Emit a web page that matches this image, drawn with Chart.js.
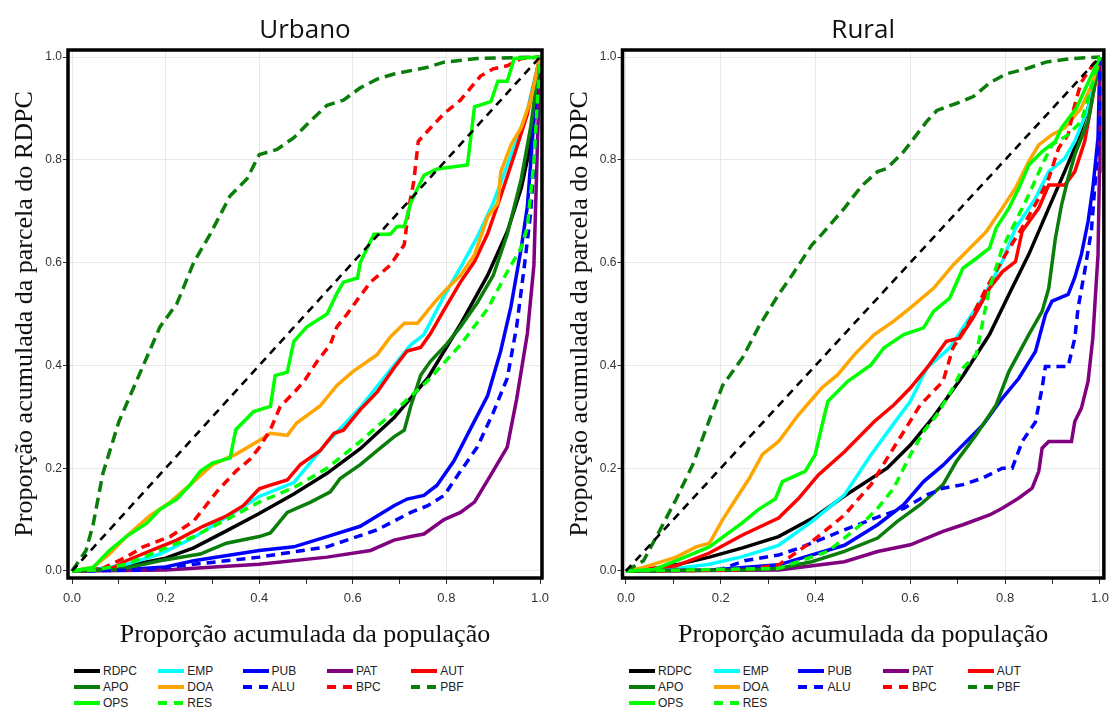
<!DOCTYPE html>
<html><head><meta charset="utf-8">
<script src="https://cdn.jsdelivr.net/npm/chart.js@4.4.0/dist/chart.umd.min.js"></script>
<style>
body{margin:0;background:#fff;width:1116px;height:709px;overflow:hidden;position:relative;font-family:"Liberation Sans",Arial,sans-serif}
canvas.chart{position:absolute;top:0}
.leg{position:absolute;height:16px;display:flex;align-items:center;font-size:12px;color:#222;white-space:nowrap}
.leg canvas{margin-right:3px}
</style></head><body>
<canvas id="cU" class="chart" width="558" height="655" style="left:0"></canvas>
<canvas id="cR" class="chart" width="558" height="655" style="left:558px"></canvas>
<div id="legends"></div>
<script>
// ---------- tick labels / categories ----------
const xTickValues = [0,0.1,0.2,0.3,0.4,0.5,0.6,0.7,0.8,0.9,1.0];
const yTickValues = [0,0.2,0.4,0.6,0.8,1.0];
const seriesNames = ["RDPC","EMP","PUB","PAT","AUT","APO","DOA","ALU","BPC","PBF","OPS","RES"];
const diagonal = [[0,0],[1,1]];

// ---------- Urbano ----------
const U_RDPC = [[0,0],[0.1,0.007],[0.2,0.025],[0.26,0.045],[0.33,0.078],[0.4,0.112],[0.474,0.15],[0.545,0.19],[0.616,0.238],[0.688,0.298],[0.76,0.375],[0.83,0.48],[0.888,0.575],[0.93,0.66],[0.96,0.745],[0.98,0.83],[1,1]];
const U_EMP = [[0,0],[0.05,0.002],[0.116,0.013],[0.188,0.033],[0.26,0.065],[0.33,0.105],[0.4,0.145],[0.474,0.172],[0.545,0.25],[0.616,0.318],[0.688,0.4],[0.724,0.44],[0.752,0.46],[0.795,0.535],[0.83,0.59],[0.866,0.65],[0.9,0.716],[0.938,0.809],[0.973,0.896],[1,1]];
const U_PUB = [[0,0],[0.1,0.002],[0.2,0.008],[0.26,0.02],[0.4,0.04],[0.474,0.047],[0.545,0.067],[0.616,0.087],[0.688,0.127],[0.716,0.14],[0.752,0.147],[0.78,0.167],[0.816,0.214],[0.85,0.274],[0.888,0.341],[0.916,0.428],[0.938,0.515],[0.96,0.629],[0.973,0.709],[0.987,0.876],[1,1]];
const U_PAT = [[0,0],[0.2,0.002],[0.4,0.013],[0.545,0.027],[0.638,0.04],[0.688,0.06],[0.724,0.067],[0.752,0.072],[0.795,0.1],[0.83,0.114],[0.86,0.134],[0.895,0.187],[0.93,0.241],[0.95,0.334],[0.973,0.462],[0.987,0.595],[1,1]];
const U_AUT = [[0,0],[0.08,0.003],[0.116,0.02],[0.188,0.047],[0.224,0.06],[0.28,0.087],[0.33,0.107],[0.366,0.127],[0.4,0.16],[0.424,0.167],[0.46,0.177],[0.488,0.207],[0.53,0.234],[0.56,0.268],[0.58,0.274],[0.616,0.314],[0.652,0.348],[0.688,0.395],[0.716,0.428],[0.745,0.435],[0.766,0.462],[0.795,0.508],[0.83,0.562],[0.86,0.602],[0.888,0.656],[0.916,0.729],[0.945,0.809],[0.973,0.889],[1,1]];
const U_APO = [[0,0],[0.1,0.003],[0.188,0.02],[0.274,0.033],[0.33,0.054],[0.4,0.067],[0.424,0.074],[0.46,0.114],[0.51,0.134],[0.552,0.154],[0.573,0.18],[0.616,0.207],[0.652,0.234],[0.688,0.261],[0.71,0.274],[0.724,0.321],[0.745,0.381],[0.766,0.408],[0.8,0.441],[0.83,0.475],[0.866,0.522],[0.9,0.575],[0.93,0.655],[0.96,0.763],[0.98,0.863],[1,1]];
const U_DOA = [[0,0],[0.045,0.007],[0.08,0.033],[0.116,0.067],[0.166,0.107],[0.21,0.134],[0.26,0.174],[0.3,0.207],[0.35,0.227],[0.4,0.254],[0.424,0.268],[0.46,0.264],[0.48,0.288],[0.53,0.321],[0.566,0.361],[0.6,0.388],[0.652,0.421],[0.68,0.455],[0.71,0.482],[0.738,0.482],[0.774,0.522],[0.8,0.548],[0.83,0.575],[0.86,0.615],[0.888,0.689],[0.91,0.716],[0.916,0.776],[0.938,0.829],[0.96,0.863],[0.98,0.916],[1,1]];
const U_ALU = [[0,0],[0.15,0.002],[0.26,0.013],[0.4,0.027],[0.545,0.047],[0.652,0.08],[0.724,0.114],[0.76,0.127],[0.795,0.147],[0.83,0.194],[0.866,0.241],[0.9,0.308],[0.93,0.375],[0.95,0.475],[0.966,0.589],[0.98,0.696],[0.99,0.829],[1,1]];
const U_BPC = [[0,0],[0.06,0.003],[0.116,0.027],[0.152,0.047],[0.21,0.067],[0.26,0.097],[0.28,0.12],[0.31,0.155],[0.35,0.194],[0.38,0.217],[0.4,0.24],[0.424,0.275],[0.445,0.32],[0.474,0.347],[0.495,0.368],[0.524,0.408],[0.552,0.441],[0.566,0.475],[0.588,0.5],[0.61,0.528],[0.638,0.562],[0.68,0.595],[0.71,0.635],[0.72,0.709],[0.73,0.756],[0.74,0.836],[0.76,0.856],[0.795,0.89],[0.83,0.916],[0.873,0.963],[0.9,0.977],[0.93,0.983],[0.96,0.997],[1,1]];
const U_PBF = [[0,0],[0.03,0.04],[0.045,0.09],[0.066,0.19],[0.1,0.29],[0.138,0.37],[0.188,0.475],[0.224,0.52],[0.26,0.6],[0.295,0.655],[0.338,0.73],[0.374,0.763],[0.4,0.81],[0.438,0.82],[0.474,0.843],[0.51,0.876],[0.545,0.906],[0.58,0.916],[0.616,0.94],[0.652,0.957],[0.688,0.967],[0.76,0.98],[0.795,0.99],[0.866,0.997],[1,1]];
const U_OPS = [[0,0],[0.045,0.007],[0.08,0.04],[0.116,0.067],[0.16,0.093],[0.188,0.12],[0.224,0.14],[0.252,0.167],[0.274,0.194],[0.3,0.21],[0.338,0.22],[0.35,0.275],[0.388,0.31],[0.424,0.32],[0.434,0.38],[0.46,0.387],[0.474,0.447],[0.502,0.475],[0.545,0.5],[0.566,0.54],[0.58,0.562],[0.61,0.57],[0.616,0.6],[0.645,0.655],[0.68,0.655],[0.695,0.67],[0.71,0.67],[0.724,0.717],[0.752,0.77],[0.78,0.782],[0.845,0.79],[0.86,0.903],[0.895,0.913],[0.91,0.953],[0.93,0.953],[0.945,0.997],[1,1]];
const U_RES = [[0,0],[0.05,0.002],[0.116,0.013],[0.188,0.04],[0.26,0.067],[0.33,0.1],[0.4,0.134],[0.474,0.162],[0.545,0.2],[0.616,0.252],[0.688,0.31],[0.724,0.34],[0.76,0.37],[0.83,0.44],[0.888,0.51],[0.93,0.582],[0.96,0.629],[0.973,0.669],[0.987,0.796],[1,1]];

// ---------- Rural ----------
const R_RDPC = [[0,0],[0.05,0.003],[0.106,0.012],[0.176,0.027],[0.246,0.045],[0.322,0.067],[0.4,0.106],[0.461,0.146],[0.551,0.2],[0.6,0.245],[0.649,0.3],[0.711,0.38],[0.767,0.46],[0.808,0.538],[0.85,0.616],[0.892,0.706],[0.926,0.778],[0.95,0.83],[0.975,0.9],[1,1]];
const R_EMP = [[0,0],[0.106,0.005],[0.176,0.013],[0.246,0.028],[0.322,0.05],[0.392,0.096],[0.461,0.148],[0.517,0.226],[0.558,0.278],[0.6,0.33],[0.635,0.395],[0.683,0.434],[0.711,0.473],[0.753,0.531],[0.794,0.602],[0.822,0.667],[0.864,0.725],[0.892,0.777],[0.926,0.803],[0.947,0.836],[0.975,0.9],[1,1]];
const R_PUB = [[0,0],[0.18,0.002],[0.322,0.012],[0.461,0.05],[0.531,0.09],[0.586,0.129],[0.628,0.174],[0.669,0.206],[0.711,0.245],[0.753,0.284],[0.794,0.336],[0.829,0.375],[0.864,0.427],[0.885,0.499],[0.899,0.525],[0.933,0.538],[0.947,0.571],[0.961,0.616],[0.975,0.68],[0.985,0.745],[0.996,0.843],[1,1]];
const R_PAT = [[0,0],[0.322,0.002],[0.461,0.018],[0.531,0.038],[0.6,0.051],[0.669,0.077],[0.711,0.09],[0.767,0.109],[0.794,0.122],[0.829,0.142],[0.857,0.161],[0.871,0.194],[0.878,0.239],[0.892,0.252],[0.94,0.252],[0.947,0.291],[0.961,0.317],[0.975,0.369],[0.985,0.453],[0.996,0.616],[0.999,0.778],[1,1]];
const R_AUT = [[0,0],[0.106,0.01],[0.176,0.035],[0.246,0.07],[0.322,0.103],[0.364,0.141],[0.406,0.187],[0.461,0.232],[0.524,0.291],[0.565,0.323],[0.6,0.356],[0.635,0.395],[0.676,0.447],[0.704,0.453],[0.732,0.492],[0.767,0.55],[0.794,0.582],[0.822,0.602],[0.836,0.661],[0.871,0.706],[0.892,0.751],[0.926,0.751],[0.947,0.777],[0.968,0.836],[1,1]];
const R_APO = [[0,0],[0.25,0.002],[0.322,0.005],[0.392,0.018],[0.461,0.038],[0.531,0.064],[0.572,0.096],[0.621,0.129],[0.669,0.168],[0.697,0.213],[0.739,0.265],[0.781,0.323],[0.808,0.388],[0.85,0.46],[0.878,0.505],[0.892,0.55],[0.906,0.647],[0.919,0.712],[0.933,0.764],[0.947,0.81],[0.975,0.875],[1,1]];
const R_DOA = [[0,0],[0.037,0.007],[0.106,0.027],[0.148,0.047],[0.176,0.054],[0.204,0.1],[0.232,0.14],[0.26,0.18],[0.288,0.227],[0.322,0.252],[0.364,0.304],[0.413,0.356],[0.447,0.382],[0.482,0.421],[0.524,0.46],[0.565,0.486],[0.6,0.512],[0.649,0.55],[0.69,0.595],[0.732,0.634],[0.76,0.66],[0.794,0.706],[0.822,0.745],[0.85,0.797],[0.871,0.829],[0.899,0.849],[0.926,0.862],[0.96,0.9],[0.985,0.95],[1,1]];
const R_ALU = [[0,0],[0.2,0.003],[0.25,0.02],[0.322,0.031],[0.364,0.044],[0.461,0.08],[0.531,0.105],[0.586,0.122],[0.635,0.148],[0.669,0.161],[0.711,0.168],[0.753,0.181],[0.794,0.2],[0.815,0.2],[0.836,0.252],[0.864,0.29],[0.878,0.356],[0.885,0.398],[0.933,0.398],[0.947,0.453],[0.954,0.512],[0.968,0.584],[0.982,0.662],[0.989,0.745],[0.999,0.849],[1,1]];
const R_BPC = [[0,0],[0.25,0.002],[0.322,0.012],[0.392,0.057],[0.461,0.109],[0.517,0.168],[0.551,0.219],[0.586,0.271],[0.621,0.323],[0.669,0.369],[0.69,0.434],[0.725,0.486],[0.76,0.55],[0.801,0.616],[0.836,0.668],[0.871,0.725],[0.892,0.764],[0.913,0.823],[0.933,0.849],[0.945,0.9],[0.96,0.95],[0.985,0.985],[1,1]];
const R_PBF = [[0,0],[0.037,0.02],[0.072,0.08],[0.106,0.14],[0.141,0.207],[0.176,0.294],[0.204,0.361],[0.246,0.415],[0.28,0.475],[0.322,0.538],[0.35,0.575],[0.392,0.634],[0.413,0.655],[0.461,0.706],[0.497,0.749],[0.531,0.777],[0.55,0.783],[0.586,0.816],[0.635,0.875],[0.656,0.896],[0.698,0.91],[0.733,0.923],[0.768,0.95],[0.802,0.967],[0.844,0.977],[0.886,0.99],[0.94,0.997],[1,1]];
const R_OPS = [[0,0],[0.06,0.003],[0.106,0.02],[0.176,0.047],[0.246,0.094],[0.28,0.12],[0.315,0.14],[0.33,0.174],[0.378,0.194],[0.399,0.226],[0.419,0.304],[0.426,0.33],[0.468,0.369],[0.517,0.401],[0.544,0.434],[0.586,0.46],[0.628,0.473],[0.649,0.505],[0.683,0.531],[0.711,0.589],[0.739,0.608],[0.767,0.628],[0.781,0.667],[0.808,0.706],[0.829,0.745],[0.85,0.79],[0.878,0.816],[0.906,0.836],[0.919,0.862],[0.95,0.9],[0.975,0.95],[1,1]];
const R_RES = [[0,0],[0.322,0.005],[0.426,0.038],[0.461,0.064],[0.503,0.096],[0.531,0.122],[0.565,0.161],[0.6,0.226],[0.628,0.271],[0.656,0.304],[0.69,0.356],[0.711,0.395],[0.739,0.421],[0.753,0.486],[0.767,0.55],[0.794,0.628],[0.822,0.68],[0.85,0.732],[0.878,0.79],[0.899,0.829],[0.933,0.849],[0.961,0.875],[1,1]];

// ---------- styles ----------
const STYLE = {
  RDPC:{c:'#000000',d:[]}, EMP:{c:'#00ffff',d:[]}, PUB:{c:'#0000ff',d:[]}, PAT:{c:'#800080',d:[]},
  AUT:{c:'#ff0000',d:[]}, APO:{c:'#0b7d0b',d:[]}, DOA:{c:'#ffa500',d:[]}, ALU:{c:'#0000ff',d:[9,6]},
  BPC:{c:'#ff0000',d:[9,6]}, PBF:{c:'#0b7d0b',d:[11,6]}, OPS:{c:'#00ff00',d:[]}, RES:{c:'#00ff00',d:[9,6]}
};
const drawOrder = ["RES","OPS","PBF","BPC","ALU","DOA","APO","AUT","PAT","PUB","EMP","RDPC"]; // first = on top

const URB = {RDPC:U_RDPC,EMP:U_EMP,PUB:U_PUB,PAT:U_PAT,AUT:U_AUT,APO:U_APO,DOA:U_DOA,ALU:U_ALU,BPC:U_BPC,PBF:U_PBF,OPS:U_OPS,RES:U_RES};
const RUR = {RDPC:R_RDPC,EMP:R_EMP,PUB:R_PUB,PAT:R_PAT,AUT:R_AUT,APO:R_APO,DOA:R_DOA,ALU:R_ALU,BPC:R_BPC,PBF:R_PBF,OPS:R_OPS,RES:R_RES};

const framePlugin = {
  id:'frame',
  afterDraw(chart, args, opts){
    const {ctx, chartArea:a} = chart;
    ctx.save();
    ctx.strokeStyle='#000'; ctx.lineWidth=3.5;
    ctx.strokeRect(a.left, a.top, a.right-a.left, a.bottom-a.top);
    ctx.fillStyle='#111';
    ctx.font='26px "Open Sans", "Liberation Sans", sans-serif';
    ctx.textAlign='center'; ctx.textBaseline='alphabetic';
    ctx.fillText(opts.text, (a.left+a.right)/2, 38);
    ctx.restore();
  }
};

function makeChart(id, title, series, g){
  const datasets = [{label:'diag', data: diagonal.map(([x,y])=>({x,y})), borderColor:'#000', borderWidth:2.6, borderDash:[8,6], pointRadius:0, fill:false, tension:0}];
  drawOrder.forEach(n=>{
    datasets.push({label:n, data: series[n].map(([x,y])=>({x,y})), borderColor:STYLE[n].c, borderWidth:3.5, borderDash:STYLE[n].d, pointRadius:0, fill:false, tension:0});
  });
  return new Chart(document.getElementById(id), {
    type:'line',
    data:{datasets},
    plugins:[framePlugin],
    options:{
      responsive:false, animation:false, devicePixelRatio:1,
      layout:{padding:{top:50,right:g.padR,left:0,bottom:0}},
      plugins:{legend:{display:false}, tooltip:{enabled:false}, frame:{text:title}},
      scales:{
        x:{type:'linear', min:g.xmin, max:g.xmax,
           afterBuildTicks:s=>{s.ticks=xTickValues.map(v=>({value:v}));},
           afterFit:s=>{s.height=77;},
           border:{display:false},
           grid:{color:c=>(c.tick && Math.round(c.tick.value*10)%2===0)?'#e8e8e8':'rgba(0,0,0,0)', tickColor:'#333', tickLength:6, lineWidth:1},
           ticks:{autoSkip:false, maxRotation:0, padding:7, color:'#333', font:{family:'"Liberation Sans", Arial, sans-serif', size:13},
                  callback:v=>Math.round(v*10)%2===0 ? Number(v).toFixed(1) : ''},
           title:{display:true, text:'Proporção acumulada da população', color:'#111', font:{family:'"Liberation Serif","Times New Roman",serif', size:26}, padding:{top:0,bottom:4}}
        },
        y:{type:'linear', min:-0.01362, max:1.01362,
           afterBuildTicks:s=>{s.ticks=yTickValues.map(v=>({value:v}));},
           afterFit:s=>{s.width=g.yW;},
           border:{display:false},
           grid:{color:'#e8e8e8', tickColor:'#333', tickLength:5, lineWidth:1},
           ticks:{padding:1, color:'#333', font:{family:'"Liberation Sans", Arial, sans-serif', size:12},
                  callback:v=>Number(v).toFixed(1)},
           title:{display:true, text:'Proporção acumulada da parcela do RDPC', color:'#111', font:{family:'"Liberation Serif","Times New Roman",serif', size:26}, padding:{top:g.yTitlePad,bottom:0}}
        }
      }
    }
  });
}

makeChart('cU','Urbano',URB,{padR:16, yW:68, xmin:-4/468, xmax:1+2/468, yTitlePad:10});
makeChart('cR','Rural',RUR,{padR:6, yW:64.5, xmin:-3.5/480, xmax:1+4/480, yTitlePad:7});

// ---------- legends ----------
const legendRows = [["RDPC","EMP","PUB","PAT","AUT"],["APO","DOA","ALU","BPC","PBF"],["OPS","RES"]];
const rowY = [670.5,687,703];
function makeLegend(x0, step){
  const host = document.getElementById('legends');
  legendRows.forEach((row,ri)=>{
    row.forEach((n,ci)=>{
      const d=document.createElement('div'); d.className='leg';
      d.style.left=(x0+ci*step)+'px'; d.style.top=(rowY[ri]-8)+'px';
      const cv=document.createElement('canvas'); cv.width=26; cv.height=6;
      const c=cv.getContext('2d'); c.strokeStyle=STYLE[n].c; c.lineWidth=4;
      if(STYLE[n].d.length) c.setLineDash([9,7]);
      c.beginPath(); c.moveTo(0,3); c.lineTo(26,3); c.stroke();
      d.appendChild(cv);
      const s=document.createElement('span'); s.textContent=n; d.appendChild(s);
      host.appendChild(d);
    });
  });
}
makeLegend(74, 84.3);
makeLegend(629, 84.7);
</script>
</body></html>
